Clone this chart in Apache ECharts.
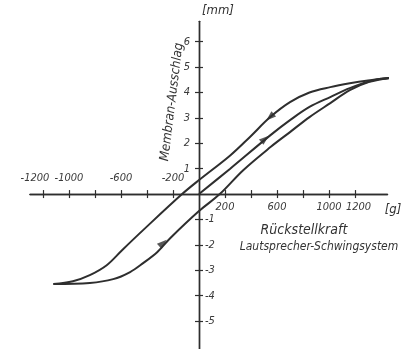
<!DOCTYPE html>
<html><head><meta charset="utf-8">
<script src="https://cdn.jsdelivr.net/npm/echarts@6/dist/echarts.min.js"></script>
<style>html,body{margin:0;padding:0;background:#fff}#c{width:420px;height:349px}</style>
</head><body><div id="c"></div>
<script>
// Data (force in g, displacement in mm)
var upperForce = [1470, 1300, 1160, 1010, 850, 700, 550, 390, 240, 0, -130, -430, -590, -710, -840, -970, -1120];
var upperDisp  = [4.57, 4.47, 4.36, 4.21, 4.00, 3.62, 3.04, 2.24, 1.52, 0.55, 0, -1.42, -2.20, -2.80, -3.19, -3.43, -3.54];
var lowerForce = [-1120, -840, -660, -530, -430, -320, -220, 0, 160, 340, 550, 700, 850, 1010, 1160, 1310, 1470];
var lowerDisp  = [-3.54, -3.50, -3.35, -3.07, -2.72, -2.28, -1.73, -0.67, 0, 0.94, 1.85, 2.44, 3.03, 3.58, 4.09, 4.42, 4.57];
var virginForce = [0, 240, 550, 700, 850, 1010, 1160, 1350, 1470];
var virginDisp  = [0, 1.00, 2.32, 2.91, 3.43, 3.82, 4.17, 4.49, 4.57];
var arrowForce = [546, 508, -277];
var arrowDisp  = [3.03, 2.17, -1.93];
var arrowAngle = [131, -50, -48];
var xTicks = [-1200, -1000, -800, -600, -400, -200, 200, 400, 600, 800, 1000, 1200];
var xLabelsBelow = [200, 600, 1000, 1200];
var xLabelsAbove = [-1200, -1000, -600, -200];
var yTicks = [-5, -4, -3, -2, -1, 1, 2, 3, 4, 5, 6];
var yLabelsLeft = [1, 2, 3, 4, 5, 6];
var yLabelsRight = [-1, -2, -3, -4, -5];

function pairs(a, b) { return a.map(function (v, i) { return [v, b[i]]; }); }

var X_MIN = -1300, X_MAX = 1450, Y_MIN = -6.1, Y_MAX = 6.8;
var G_LEFT = 30, G_WIDTH = 357.5, G_TOP = 21.34, G_HEIGHT = 327.66;
// offsets that bring the axes to the zero lines of the other axis
var xOff = -G_HEIGHT * (0 - Y_MIN) / (Y_MAX - Y_MIN);
var yOff = -G_WIDTH * (0 - X_MIN) / (X_MAX - X_MIN);

var ink = '#2e2e2e';
var font = "'DejaVu Sans Condensed', 'DejaVu Sans', sans-serif";
var txt = { color: '#3a3a3a', fontFamily: font, fontStyle: 'italic', fontSize: 11 };

function labelCfg(inside, margin, labels, lo, hi) {
  // empty placeholder labels at both ends so no real label is dropped by min/max overlap checks
  return Object.assign({
    inside: inside, margin: margin, customValues: [lo].concat(labels, [hi]), interval: 0,
    hideOverlap: false, showMinLabel: true, showMaxLabel: true,
    formatter: function (v) {
      if (labels.indexOf(v) < 0) return '';
      if (v === -1200) return '{l|' + v + '}';
      if (v === 1200) return '{r|' + v + '}';
      return String(v);
    },
    rich: {
      l: Object.assign({ padding: [0, 16, 0, 0] }, txt),
      r: Object.assign({ padding: [0, 0, 0, 7] }, txt)
    }
  }, txt);
}

function xAx(inside, labels) {
  return {
    type: 'value', min: X_MIN, max: X_MAX, position: 'bottom', offset: xOff,
    axisLine: { onZero: false, lineStyle: { color: ink, width: 1.4 } },
    axisTick: { show: true, inside: inside, length: 4, customValues: xTicks, lineStyle: { color: ink, width: 1.2 } },
    axisLabel: labelCfg(inside, inside ? 10 : 8, labels, X_MIN, X_MAX),
    splitLine: { show: false }
  };
}
function yAx(inside, labels) {
  return {
    type: 'value', min: Y_MIN, max: Y_MAX, position: 'left', offset: yOff,
    axisLine: { onZero: false, lineStyle: { color: ink, width: 1.4 } },
    axisTick: { show: true, inside: inside, length: 4, customValues: yTicks, lineStyle: { color: ink, width: 1.2 } },
    axisLabel: labelCfg(inside, inside ? 6 : 9, labels, Y_MIN, Y_MAX),
    splitLine: { show: false }
  };
}

var lineStyle = { color: ink, width: 2 };
var chart = echarts.init(document.getElementById('c'), null, { renderer: 'canvas' });
chart.setOption({
  backgroundColor: '#ffffff',
  animation: false,
  grid: { left: G_LEFT, width: G_WIDTH, top: G_TOP, height: G_HEIGHT, outerBoundsMode: 'none', containLabel: false },
  xAxis: [xAx(false, xLabelsBelow), xAx(true, xLabelsAbove)],
  yAxis: [yAx(false, yLabelsLeft), yAx(true, yLabelsRight)],
  series: [
    { type: 'line', data: pairs(upperForce, upperDisp), smooth: 0.35, symbol: 'none', clip: false, lineStyle: lineStyle },
    { type: 'line', data: pairs(lowerForce, lowerDisp), smooth: 0.35, symbol: 'none', clip: false, lineStyle: lineStyle },
    { type: 'line', data: pairs(virginForce, virginDisp), smooth: 0.35, symbol: 'none', clip: false, lineStyle: lineStyle },
    { type: 'scatter', symbol: 'triangle', symbolSize: [7, 10], itemStyle: { color: ink },
      data: arrowForce.map(function (f, i) { return { value: [f, arrowDisp[i]], symbolRotate: arrowAngle[i] }; }) }
  ],
  graphic: [
    { type: 'text', left: 202, top: 4, style: { text: '[mm]', fill: '#333', font: 'italic 13px ' + font } },
    { type: 'text', x: 172, y: 102, rotation: 83 * Math.PI / 180,
      style: { text: 'Membran-Ausschlag', fill: '#333', font: 'italic 13px ' + font, align: 'center', verticalAlign: 'middle' } },
    { type: 'text', x: 393, y: 210, style: { text: '[g]', fill: '#333', font: 'italic 13px ' + font, align: 'center', verticalAlign: 'middle' } },
    { type: 'text', x: 304, y: 230, style: { text: 'Rückstellkraft', fill: '#333', font: 'italic 14px ' + font, align: 'center', verticalAlign: 'middle' } },
    { type: 'text', x: 319, y: 247, style: { text: 'Lautsprecher-Schwingsystem', fill: '#333', font: 'italic 12px ' + font, align: 'center', verticalAlign: 'middle' } }
  ]
});
</script></body></html>
